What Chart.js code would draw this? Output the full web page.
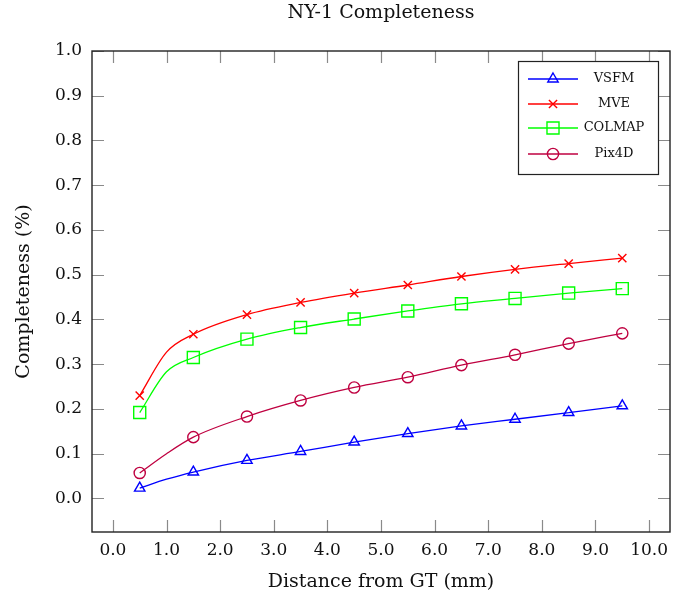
<!DOCTYPE html>
<html>
<head>
<meta charset="utf-8">
<script src="https://cdn.jsdelivr.net/npm/chart.js@4"></script>
<style>
  html, body { margin: 0; padding: 0; background: #fff; }
  #wrap { width: 687px; height: 604px; }
</style>
</head>
<body>
<div id="wrap"><canvas id="chart" width="687" height="604"></canvas></div>
<script>
// distance from GT (mm); 1.0 has no marker, it's only where the curves bend
const distances = [0.5, 1.0, 1.5, 2.5, 3.5, 4.5, 5.5, 6.5, 7.5, 8.5, 9.5];
const vsfm   = [0.023, 0.043, 0.059, 0.085, 0.105, 0.126, 0.145, 0.162, 0.177, 0.192, 0.207];
const mve    = [0.230, 0.327, 0.367, 0.411, 0.438, 0.459, 0.477, 0.496, 0.512, 0.525, 0.537];
const colmap = [0.192, 0.283, 0.315, 0.356, 0.382, 0.401, 0.419, 0.435, 0.447, 0.459, 0.469];
const pix4d  = [0.057, 0.100, 0.137, 0.183, 0.219, 0.248, 0.271, 0.298, 0.321, 0.346, 0.369];

const xTicks = [0, 1, 2, 3, 4, 5, 6, 7, 8, 9, 10];
const yTicks = [0, 0.1, 0.2, 0.3, 0.4, 0.5, 0.6, 0.7, 0.8, 0.9, 1.0];

const chartTitle = 'NY-1 Completeness';
const FONT = "'DejaVu Serif', 'Liberation Serif', serif";

function pts(arr) {
  return distances.map((d, i) => ({ x: d, y: arr[i] }));
}
function radii(r) {
  return distances.map(d => d === 1.0 ? 0 : r);
}

function makeSet(label, values, color, style, r) {
  return {
    label: label,
    data: pts(values),
    borderColor: color,
    backgroundColor: 'rgba(0,0,0,0)',
    borderWidth: 1.3,
    pointStyle: style,
    radius: r, // kept for the legend
    pointRadius: radii(r),
    pointHoverRadius: radii(r),
    pointBorderWidth: 1.4,
    pointBackgroundColor: 'rgba(0,0,0,0)',
    pointBorderColor: color,
    cubicInterpolationMode: 'monotone',
    fill: false
  };
}

// inside ticks on all four sides, the frame, and the title over the plot
const framePlugin = {
  id: 'frame',
  afterDraw(chart) {
    const ctx = chart.ctx;
    const a = chart.chartArea;
    const xs = chart.scales.x, ys = chart.scales.y;
    const len = 12;
    ctx.save();
    ctx.strokeStyle = '#8a8a8a';
    ctx.lineWidth = 1.2;
    ctx.beginPath();
    for (const v of xTicks) {
      const px = Math.round(xs.getPixelForValue(v)) + 0.5;
      ctx.moveTo(px, a.bottom); ctx.lineTo(px, a.bottom - len);
      ctx.moveTo(px, a.top); ctx.lineTo(px, a.top + len);
    }
    for (const v of yTicks) {
      const py = Math.round(ys.getPixelForValue(v)) + 0.5;
      ctx.moveTo(a.left, py); ctx.lineTo(a.left + len, py);
      ctx.moveTo(a.right, py); ctx.lineTo(a.right - len, py);
    }
    ctx.stroke();
    ctx.strokeStyle = '#222';
    ctx.lineWidth = 1.4;
    ctx.strokeRect(a.left, a.top, a.right - a.left, a.bottom - a.top);

    ctx.fillStyle = '#111';
    ctx.font = '19px ' + FONT;
    ctx.textAlign = 'center';
    ctx.textBaseline = 'middle';
    ctx.fillText(chartTitle, (a.left + a.right) / 2, 13);
    ctx.restore();
  }
};

// pgfplots style legend box in the upper right
const legendPlugin = {
  id: 'boxLegend',
  afterDraw(chart) {
    const ctx = chart.ctx;
    const bx = 518, by = 61, bw = 140, bh = 113;
    const rows = [79, 104, 128, 154];
    ctx.save();
    ctx.fillStyle = '#fff';
    ctx.fillRect(bx, by, bw, bh);
    ctx.strokeStyle = '#222';
    ctx.lineWidth = 1.2;
    ctx.strokeRect(bx + 0.5, by + 0.5, bw, bh);
    chart.data.datasets.forEach((ds, i) => {
      const y = rows[i];
      ctx.strokeStyle = ds.borderColor;
      ctx.lineWidth = 1.3;
      ctx.beginPath();
      ctx.moveTo(528, y); ctx.lineTo(578, y);
      ctx.stroke();
      ctx.lineWidth = 1.4;
      ctx.fillStyle = 'rgba(0,0,0,0)';
      Chart.helpers.drawPoint(ctx, {
        pointStyle: ds.pointStyle,
        rotation: 0,
        radius: ds.radius,
        borderWidth: 1.4
      }, 553, y);
      ctx.fillStyle = '#111';
      ctx.font = '13px ' + FONT;
      ctx.textAlign = 'center';
      ctx.textBaseline = 'middle';
      ctx.fillText(ds.label, 614, y);
    });
    ctx.restore();
  }
};

const datasets = [
  makeSet('VSFM', vsfm, '#0000ff', 'triangle', 6),
  makeSet('MVE', mve, '#ff0000', 'crossRot', 5.8),
  makeSet('COLMAP', colmap, '#00ff00', 'rect', 8.5),
  makeSet('Pix4D', pix4d, '#bf0040', 'circle', 5.6)
];

new Chart(document.getElementById('chart'), {
  type: 'line',
  data: { datasets: datasets },
  plugins: [framePlugin, legendPlugin],
  options: {
    responsive: false,
    animation: false,
    layout: { padding: { left: 0, right: 17, top: 51, bottom: 0 } },
    plugins: {
      legend: { display: false },
      tooltip: { enabled: false },
      title: { display: false }
    },
    scales: {
      x: {
        type: 'linear',
        min: -0.39,
        max: 10.39,
        afterBuildTicks(s) { s.ticks = xTicks.map(v => ({ value: v })); },
        afterFit(s) { s.height = 72; },
        grid: { display: false, drawTicks: false },
        border: { display: false },
        ticks: {
          color: '#111',
          padding: 8,
          font: { family: FONT, size: 17 },
          callback: v => v.toFixed(1)
        },
        title: {
          display: true,
          text: 'Distance from GT (mm)',
          color: '#111',
          font: { family: FONT, size: 19 },
          padding: { top: 4, bottom: 11 }
        }
      },
      y: {
        type: 'linear',
        min: -0.075,
        max: 1.0,
        afterBuildTicks(s) { s.ticks = yTicks.map(v => ({ value: v })); },
        afterFit(s) { s.width = 92; },
        grid: { display: false, drawTicks: false },
        border: { display: false },
        ticks: {
          color: '#111',
          padding: 10,
          font: { family: FONT, size: 17 },
          callback: v => v.toFixed(1)
        },
        title: {
          display: true,
          text: 'Completeness (%)',
          color: '#111',
          font: { family: FONT, size: 19 },
          padding: { top: 13, bottom: 0 }
        }
      }
    }
  }
});
</script>
</body>
</html>
